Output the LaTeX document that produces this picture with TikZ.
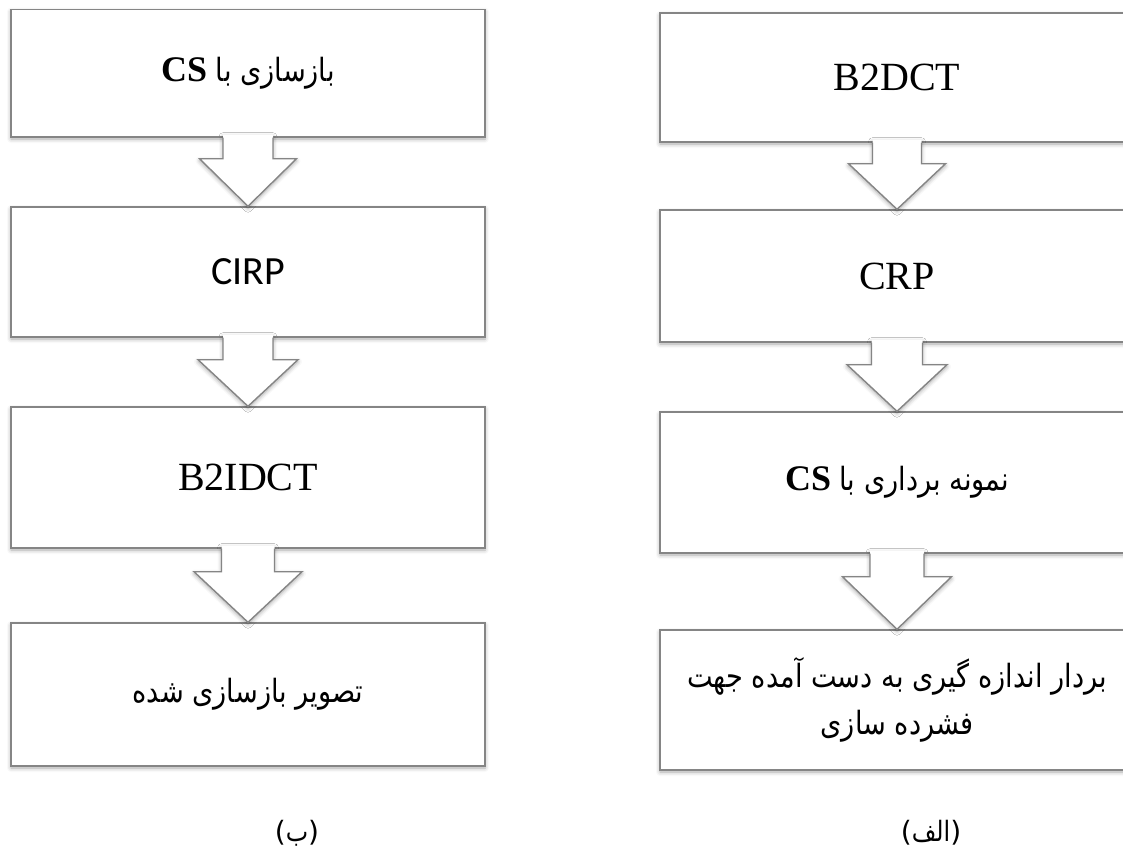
\documentclass[tikz,border=0pt]{standalone}
\usepackage{fontspec}
\setmainfont{Liberation Serif}
\newfontfamily\fa[Script=Arabic, FakeStretch=0.85]{DejaVu Sans}
\newfontfamily\dv{DejaVu Sans}
\newfontfamily\calib{Carlito}
\usetikzlibrary{calc,shadows.blur}
\definecolor{edge}{HTML}{858585}
% one Persian word, shaped on its own; words are set in visual order
\newcommand\pw[1]{\hbox{#1}}
\tikzset{
  stepbox/.style={rectangle, draw=edge, line width=0.7pt, fill=white,
    inner sep=0pt, minimum width=237pt, align=center,
    font=\fontsize{20}{24}\selectfont,
    blur shadow={shadow xshift=0pt, shadow yshift=-1pt,
                 shadow blur radius=2pt, shadow opacity=35}},
  fatext/.style={font=\fa\fontsize{16}{23.5}\selectfont},
  arrowfill/.style={fill=white,
    blur shadow={shadow xshift=0pt, shadow yshift=-1pt,
                 shadow blur radius=2pt, shadow opacity=35}},
  arrowline/.style={draw=edge, line width=0.7pt, line join=miter},
  caption/.style={font=\fa\fontsize{14}{16}\selectfont, inner sep=0pt}
}
\newcommand\csmark{{\rmfamily\bfseries\fontsize{18}{22}\selectfont CS}}
% block arrow from the bottom of #1 to the top of #2
% #3 shaft length, #4 half shaft width, #5 half head width
\newcommand\flowstep[5]{%
  \fill[arrowfill] ($(#1.south)+(-#4,-3)$) -- ($(#1.south)+(-#4,#3)$)
    -- ($(#1.south)+(-#5,#3)$) -- (#2.north) -- ($(#1.south)+(#5,#3)$)
    -- ($(#1.south)+(#4,#3)$) -- ($(#1.south)+(#4,-3)$) -- cycle;
  \draw[arrowline] ($(#1.south)+(-#4,0)$) -- ($(#1.south)+(-#4,#3)$)
    -- ($(#1.south)+(-#5,#3)$) -- (#2.north) -- ($(#1.south)+(#5,#3)$)
    -- ($(#1.south)+(#4,#3)$) -- ($(#1.south)+(#4,0)$);
}
\begin{document}
\begin{tikzpicture}[x=0.5pt, y=-0.5pt]
  \useasboundingbox (0,0) rectangle (1123,856);
  \clip (0,0) rectangle (1123,856);

  % column (b): reconstruction
  \node[stepbox, fatext, minimum height=63.75pt] (b1) at (248,73.25)
    {\csmark\ \pw{با} \pw{بازسازی}};
  \node[stepbox, minimum height=65pt] (b2) at (248,272)
    {\calib CIRP};
  \node[stepbox, minimum height=70.5pt] (b3) at (248,477.5)
    {B2IDCT};
  \node[stepbox, fatext, minimum height=71.5pt] (b4) at (248,694.5)
    {\pw{شده} \pw{بازسازی} \pw{تصویر}};

  % column (a): sampling
  \node[stepbox, minimum height=64.5pt] (a1) at (897,77.5)
    {B2DCT};
  \node[stepbox, minimum height=66pt] (a2) at (897,276)
    {CRP};
  \node[stepbox, fatext, minimum height=70.5pt] (a3) at (897,482.5)
    {\csmark\ \pw{با} \pw{برداری} \pw{نمونه}};
  \node[stepbox, fatext, minimum height=70pt] (a4) at (897,700)
    {\pw{جهت} \pw{آمده} \pw{دست} \pw{به} \pw{گیری} \pw{اندازه} \pw{بردار}\\
     \pw{سازی} \pw{فشرده}};

  % arrows between the steps
  \flowstep{b1}{b2}{21}{25}{48.5}
  \flowstep{b2}{b3}{22}{25}{50}
  \flowstep{b3}{b4}{23}{26.5}{54}
  \flowstep{a1}{a2}{21}{24.5}{48.5}
  \flowstep{a2}{a3}{22}{25.5}{50}
  \flowstep{a3}{a4}{23}{27}{54.5}

  % captions
  \node[caption] (capb) at (297,833) {{\dv(}\pw{ب}{\dv)}};
  \node[caption] (capa) at (931,833) {{\dv(}\pw{الف}{\dv)}};
\end{tikzpicture}
\end{document}
